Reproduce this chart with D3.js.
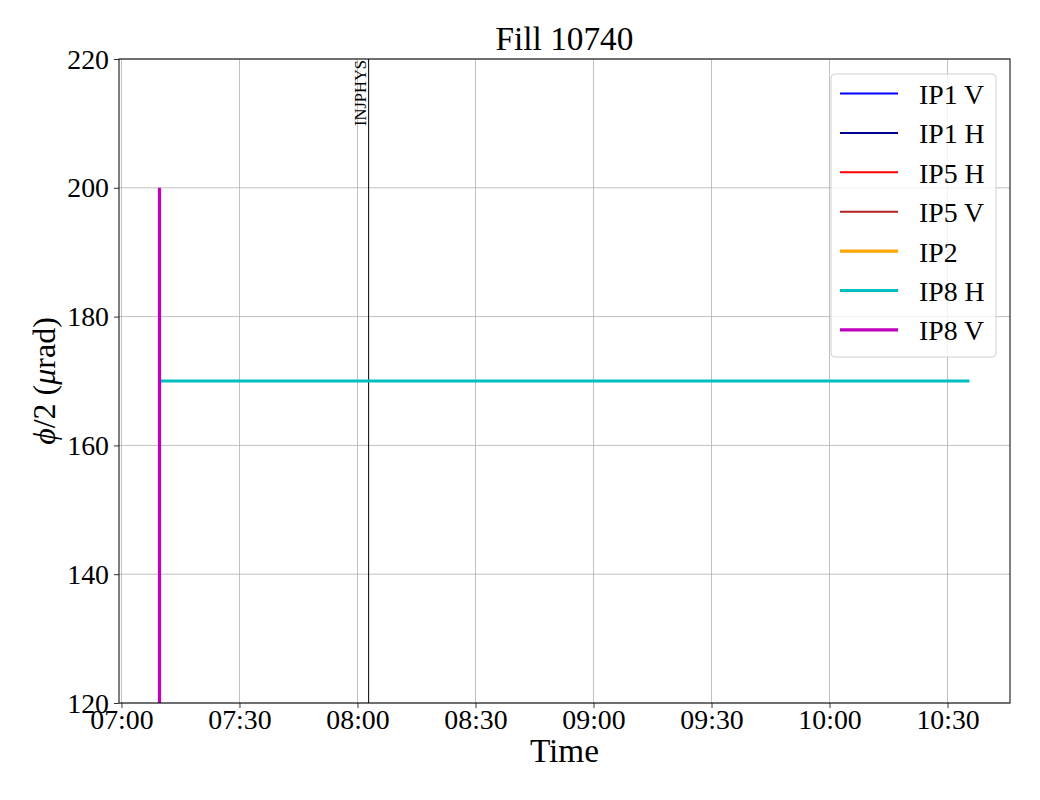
<!DOCTYPE html>
<html><head><meta charset="utf-8">
<script src="https://cdn.jsdelivr.net/npm/d3@7"></script>
<style>body{margin:0;background:#fff}svg{display:block}text{font-family:"Liberation Serif","DejaVu Serif",serif}</style>
</head><body>
<svg id="c" width="1040" height="800"></svg>
<script>
const title = "Fill 10740";
const seriesNames = ["IP1 V","IP1 H","IP5 H","IP5 V","IP2","IP8 H","IP8 V"];
const seriesColors = ["#0000ff","#00008b","#ff0000","#b22222","#ffa500","#00bfbf","#bf00bf"];
const seriesWidths = [2,2,2,2,3.2,3.2,3.2];
// time stamps (HH:MM:SS) and values per series
const ip1vTimes = [], ip1vValues = [];
const ip1hTimes = [], ip1hValues = [];
const ip5hTimes = [], ip5hValues = [];
const ip5vTimes = [], ip5vValues = [];
const ip2Times = [], ip2Values = [];
const ip8hTimes = ["07:09:50","10:35:35"], ip8hValues = [170,170];
const ip8vTimes = ["07:09:40","07:09:41","10:35:35"], ip8vValues = [200,-170,-170];
const markerTimes = ["08:02:50"], markerLabels = ["INJPHYS"];
const yTicks = [120,140,160,180,200,220];
const xTickLabels = ["07:00","07:30","08:00","08:30","09:00","09:30","10:00","10:30"];
const yDomain = [120,220];

const parseT = s => { const [h,m,sec] = s.split(":").map(Number); return new Date(2025,0,1,h,m,sec||0); };
const seriesData = [
  [ip1vTimes, ip1vValues],[ip1hTimes, ip1hValues],[ip5hTimes, ip5hValues],[ip5vTimes, ip5vValues],
  [ip2Times, ip2Values],[ip8hTimes, ip8hValues],[ip8vTimes, ip8vValues]
].map(([t,v]) => t.map((s,i)=>({t:parseT(s), v:v[i]})));

const svg = d3.select("#c");
const L=119, R=1010, T=59, B=703;
const allT = seriesData.flat().map(d=>d.t);
const tMin = d3.min(allT), tMax = d3.max(allT);
const span = tMax - tMin;
const x = d3.scaleTime().domain([new Date(+tMin - 0.05*span), new Date(+tMax + 0.05*span)]).range([L,R]);
const y = d3.scaleLinear().domain(yDomain).range([B,T]);

svg.append("defs").append("clipPath").attr("id","clip").append("rect").attr("x",L).attr("y",T).attr("width",R-L).attr("height",B-T);

// grid
const xTickDates = xTickLabels.map(parseT);
const g = svg.append("g");
g.selectAll(".gx").data(xTickDates).join("line").attr("x1",d=>x(d)).attr("x2",d=>x(d)).attr("y1",T).attr("y2",B).attr("stroke","#b0b0b0").attr("stroke-width",0.8);
g.selectAll(".gy").data(yTicks).join("line").attr("x1",L).attr("x2",R).attr("y1",d=>y(d)).attr("y2",d=>y(d)).attr("stroke","#b0b0b0").attr("stroke-width",0.8);

// marker lines
const mg = svg.append("g");
markerTimes.forEach((s,i)=>{
  const mx = x(parseT(s));
  mg.append("line").attr("x1",mx).attr("x2",mx).attr("y1",T).attr("y2",B).attr("stroke","#000").attr("stroke-width",1);
  mg.append("text").attr("transform",`translate(${mx-3},${T+1}) rotate(-90)`).attr("text-anchor","end").attr("font-size",16.5).text(markerLabels[i]);
});

// series
const line = d3.line().x(d=>x(d.t)).y(d=>y(d.v));
const sg = svg.append("g").attr("clip-path","url(#clip)");
seriesData.forEach((d,i)=>{
  if(d.length) sg.append("path").datum(d).attr("d",line).attr("fill","none").attr("stroke",seriesColors[i]).attr("stroke-width",seriesWidths[i]);
});

// axes
const xAxis = d3.axisBottom(x).tickValues(xTickDates).tickFormat((d,i)=>xTickLabels[i]).tickSize(5);
const ax = svg.append("g").attr("transform",`translate(0,${B})`).call(xAxis);
ax.select(".domain").remove();
ax.selectAll("text").attr("font-size",27.8).attr("font-family","Liberation Serif").attr("fill","#000").attr("y",26).attr("dy","0");
ax.selectAll("line").attr("stroke","#000").attr("stroke-width",0.8);
const yAxis = d3.axisLeft(y).tickValues(yTicks).tickSize(5).tickPadding(5);
const ay = svg.append("g").attr("transform",`translate(${L},0)`).call(yAxis);
ay.select(".domain").remove();
ay.selectAll("text").attr("font-size",27.8).attr("font-family","Liberation Serif").attr("fill","#000").attr("dy","0.33em");
ay.selectAll("line").attr("stroke","#000").attr("stroke-width",0.8);

svg.append("rect").attr("x",L).attr("y",T).attr("width",R-L).attr("height",B-T).attr("fill","none").attr("stroke","#000").attr("stroke-width",1);

// title & labels
svg.append("text").attr("x",(L+R)/2).attr("y",50).attr("text-anchor","middle").attr("font-size",33.3).text(title);
svg.append("text").attr("x",(L+R)/2).attr("y",762).attr("text-anchor","middle").attr("font-size",33.3).text("Time");
const yl = svg.append("text").attr("transform",`translate(55,${(T+B)/2}) rotate(-90)`).attr("text-anchor","middle").attr("font-size",32);
yl.append("tspan").attr("font-style","italic").text("ϕ");
yl.append("tspan").text("/2 (");
yl.append("tspan").attr("font-style","italic").text("μ");
yl.append("tspan").text("rad)");

// legend
const lg = svg.append("g");
lg.append("rect").attr("x",831).attr("y",74).attr("width",165).attr("height",283).attr("rx",4).attr("fill","#fff").attr("fill-opacity",0.8).attr("stroke","#d0d0d0").attr("stroke-width",1);
seriesNames.forEach((n,i)=>{
  const yy = 93.5 + i*39.4;
  lg.append("line").attr("x1",840).attr("x2",898).attr("y1",yy).attr("y2",yy).attr("stroke",seriesColors[i]).attr("stroke-width",seriesWidths[i]);
  lg.append("text").attr("x",919).attr("y",yy+10.5).attr("font-size",27.8).text(n);
});
</script>
</body></html>
